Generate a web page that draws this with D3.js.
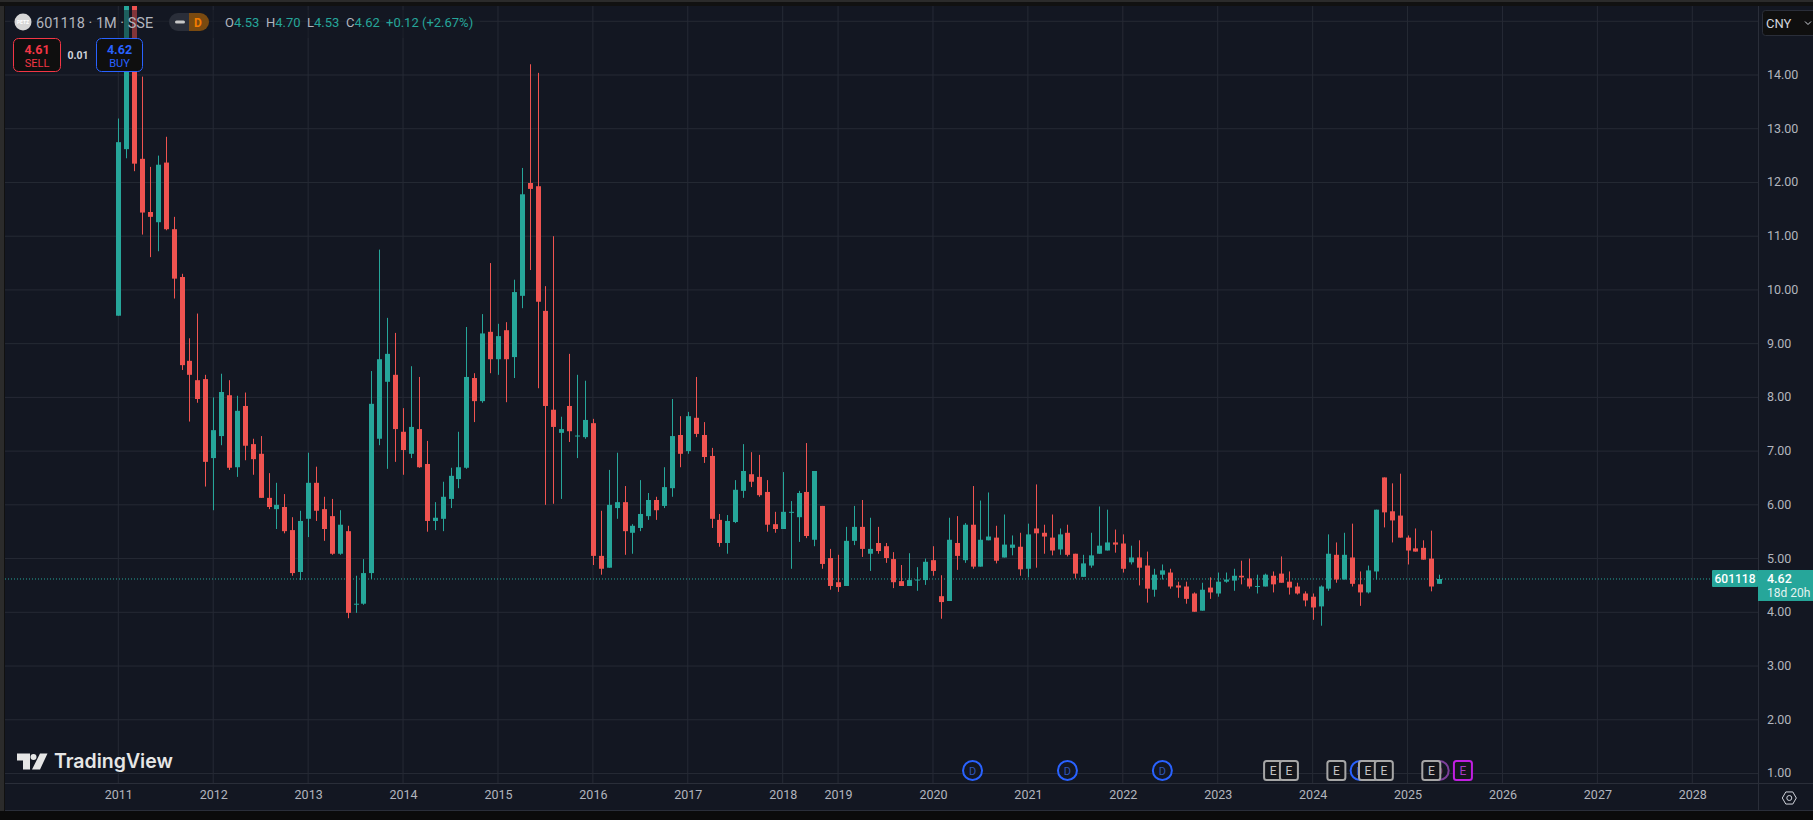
<!DOCTYPE html>
<html><head><meta charset="utf-8">
<style>html,body{margin:0;padding:0;background:#131722;overflow:hidden}svg{display:block}
text{font-family:Roboto,"Liberation Sans",sans-serif}</style>
<script src="https://cdn.jsdelivr.net/npm/d3@7"></script></head><body>
<div id="chart"></div>
<script>
const symbol = "601118", interval = "1M", exchange = "SSE", currency = "CNY";
const opens = [9.52,12.62,15.8,12.44,11.45,11.26,12.37,11.13,10.24,8.68,8.32,8.34,6.87,7.28,8.04,6.70,7.84,7.13,6.95,6.13,5.92,5.96,5.53,4.75,5.74,6.41,5.92,5.79,5.09,5.51,4.15,4.16,4.73,7.23,8.29,8.42,7.36,6.95,7.41,6.76,5.70,5.74,6.11,6.48,6.69,8.36,7.93,9.22,8.71,9.25,8.75,9.89,11.99,11.93,9.61,7.77,7.34,7.84,7.28,7.26,7.52,5.05,4.83,5.94,6.05,5.48,5.57,5.79,6.09,5.98,6.31,7.30,7.00,7.62,7.30,6.91,5.72,5.29,5.68,6.26,6.57,6.52,6.24,5.64,5.55,5.86,5.77,6.24,5.35,5.98,5.01,4.56,4.49,5.33,5.59,5.09,5.29,5.23,4.99,4.58,4.49,4.60,4.60,4.97,4.30,4.21,5.29,4.97,5.63,4.85,5.34,5.39,5.02,5.20,5.22,4.81,5.56,5.48,5.39,5.17,5.48,5.09,4.66,4.87,5.09,5.15,5.30,5.28,4.93,5.02,4.87,4.42,4.70,4.74,4.50,4.48,4.35,4.03,4.46,4.35,4.57,4.59,4.68,4.63,4.48,4.48,4.68,4.72,4.57,4.48,4.35,4.29,4.11,4.44,5.07,4.61,5.02,4.52,4.37,4.76,6.51,5.88,5.80,5.39,5.19,5.20,5.00,4.53];
const highs = [13.19,16.2,16.4,13.97,12.29,12.50,12.85,11.36,10.30,9.10,9.56,8.42,8.00,8.44,8.32,8.03,8.09,7.23,7.28,6.59,6.41,6.20,5.77,5.89,6.97,6.71,6.15,6.11,5.90,5.61,4.68,4.99,8.49,10.75,9.48,9.20,7.80,8.58,8.38,7.19,6.05,6.43,6.69,7.36,9.31,8.45,9.55,10.50,9.37,9.40,10.19,12.27,14.20,14.04,10.07,11.00,7.64,8.81,8.42,8.31,7.60,5.89,6.65,6.97,6.35,5.64,6.46,6.22,6.15,6.70,7.97,7.65,7.73,8.38,7.54,7.06,5.83,5.81,6.46,7.13,6.98,6.93,6.46,5.87,6.61,6.07,6.26,7.15,6.63,5.98,5.18,5.07,5.59,5.98,6.09,5.76,5.59,5.29,5.12,4.88,5.10,4.84,5.00,5.23,4.69,5.76,5.79,5.66,6.35,6.08,6.23,5.61,5.82,5.43,5.48,5.65,6.38,5.63,5.82,5.56,5.63,5.09,5.07,5.48,5.97,5.91,5.54,5.45,5.24,5.34,5.13,4.81,4.89,4.81,4.57,4.57,4.37,4.55,4.65,4.74,4.74,4.81,4.96,5.00,4.70,4.72,4.76,5.04,4.76,4.55,4.39,4.35,4.50,5.45,5.30,5.48,5.65,4.76,4.87,5.91,6.51,6.40,6.58,5.43,5.56,5.34,5.52,4.70];
const lows = [9.52,12.45,12.21,11.03,10.61,10.72,11.11,9.84,8.51,7.55,7.90,6.34,5.90,7.11,6.65,6.52,6.83,6.56,6.13,5.92,5.55,5.47,4.68,4.60,5.40,5.70,5.33,5.07,5.07,3.89,3.99,4.14,4.62,7.11,6.67,6.80,6.56,6.87,6.69,5.50,5.53,5.51,5.94,6.31,6.67,7.54,7.90,8.45,8.42,7.91,8.36,9.66,10.37,8.17,6.00,6.02,6.11,7.17,6.87,7.23,4.88,4.70,4.83,5.74,5.07,5.09,5.51,5.72,5.72,5.94,6.15,6.70,6.95,7.26,6.78,5.57,5.22,5.09,5.66,6.13,6.33,6.15,5.50,5.48,5.55,4.81,5.31,5.38,5.23,4.81,4.42,4.38,4.49,5.25,5.03,4.77,5.09,4.92,4.45,4.49,4.49,4.40,4.51,4.68,3.88,4.21,4.79,4.92,4.81,4.85,5.34,4.91,5.02,5.06,4.68,4.65,4.83,5.09,5.06,5.07,5.04,4.63,4.66,4.83,5.09,5.15,5.11,4.74,4.89,4.50,4.18,4.29,4.61,4.44,4.27,4.16,4.01,4.03,4.25,4.29,4.55,4.40,4.52,4.44,4.35,4.48,4.37,4.55,4.33,4.33,4.11,3.86,3.75,4.40,4.55,4.61,4.48,4.12,4.35,4.61,5.58,5.30,5.39,4.89,5.13,4.98,4.39,4.53];
const closes = [12.75,15.8,12.35,11.44,11.36,12.33,11.13,10.21,8.60,8.42,7.97,6.80,7.39,8.10,6.69,7.75,7.10,6.85,6.13,5.96,6.00,5.51,4.73,5.70,6.41,5.89,5.55,5.09,5.63,3.99,4.16,4.73,7.88,8.71,8.81,7.41,7.02,7.45,6.70,5.70,5.76,6.15,6.54,6.70,8.38,7.93,9.19,8.71,9.14,8.71,9.96,11.78,11.88,9.78,7.84,7.45,7.41,7.37,7.29,7.58,5.05,4.81,6.00,6.05,5.51,5.61,5.83,6.09,5.90,6.33,7.28,6.95,7.65,7.32,6.89,5.74,5.29,5.70,6.28,6.63,6.43,6.18,5.63,5.55,5.87,5.87,6.22,5.42,6.63,4.90,4.49,4.47,5.33,5.59,5.18,5.18,5.14,5.01,4.56,4.49,4.60,4.61,4.94,4.77,4.19,5.35,5.05,5.63,4.85,5.35,5.41,4.96,5.26,5.26,4.80,5.45,5.47,5.41,5.15,5.45,5.07,4.72,4.91,5.06,5.24,5.30,5.26,4.81,5.02,4.83,4.44,4.70,4.78,4.48,4.46,4.25,4.01,4.42,4.37,4.57,4.61,4.68,4.65,4.48,4.49,4.70,4.52,4.55,4.46,4.35,4.22,4.09,4.48,5.09,4.61,5.07,4.53,4.37,4.78,5.91,5.86,5.71,5.39,5.15,5.13,4.98,4.48,4.62];
const lastPrice = 4.62, sellPrice = "4.61", buyPrice = "4.62", spread = "0.01", countdown = "18d 20h";
const ohlcLegend = [["O","4.53"],["H","4.70"],["L","4.53"],["C","4.62"]];
const changeText = "+0.12 (+2.67%)";
const priceTicks = [1,2,3,4,5,6,7,8,9,10,11,12,13,14,15];
const yearTicks = [2011,2012,2013,2014,2015,2016,2017,2018,2019,2020,2021,2022,2023,2024,2025,2026,2027,2028];
const yearBars = [0,12,24,36,48,60,72,84,91,103,115,127,139,151,163,175,187,199];
const dividendBars = [108,120,132,157];
const upcomingDividendBar = 167;
const earningsBars = [146,148,154,158,160,166];
const upcomingEarningsBar = 170;

const W=1813,H=820, L=5, T=6, R=1758, B=783;
const UP="#26a69a", DN="#ef5350", GRID="#262a35", TXT="#b2b5be", BG="#131722", DARK="#0f0f0f";
const x=d3.scaleLinear().domain([0,199]).range([118.3,1692.3]);
const y=d3.scaleLinear().domain([4,14]).range([612.3,75]);

const svg=d3.select("#chart").append("svg").attr("width",W).attr("height",H);
svg.append("rect").attr("width",W).attr("height",H).attr("fill",BG);
svg.append("defs").append("clipPath").attr("id","plot").append("rect").attr("x",L).attr("y",T).attr("width",R-L).attr("height",B-T);

const gridG=svg.append("g").attr("class","grid");
gridG.selectAll(".h").data(priceTicks).join("line").attr("class","h").attr("x1",L).attr("x2",R).attr("y1",d=>y(d)).attr("y2",d=>y(d)).attr("stroke",GRID);
gridG.selectAll(".v").data(yearBars).join("line").attr("class","v").attr("y1",T).attr("y2",B).attr("x1",d=>x(d)).attr("x2",d=>x(d)).attr("stroke",GRID);

svg.append("line").attr("x1",L).attr("x2",1712).attr("y1",y(lastPrice)).attr("y2",y(lastPrice)).attr("stroke",UP).attr("stroke-dasharray","1 2");

const bars=d3.range(opens.length);
const cg=svg.append("g").attr("clip-path","url(#plot)");
cg.selectAll(".wick").data(bars).join("line").attr("class","wick")
  .attr("x1",i=>Math.round(x(i))+.5).attr("x2",i=>Math.round(x(i))+.5)
  .attr("y1",i=>y(highs[i])).attr("y2",i=>y(lows[i]))
  .attr("stroke",i=>closes[i]>=opens[i]?UP:DN).attr("stroke-width",1);
cg.selectAll(".body").data(bars).join("rect").attr("class","body")
  .attr("x",i=>Math.round(x(i))-2).attr("width",5)
  .attr("y",i=>y(Math.max(opens[i],closes[i])))
  .attr("height",i=>Math.max(1,Math.abs(y(opens[i])-y(closes[i]))))
  .attr("fill",i=>closes[i]>=opens[i]?UP:DN);

// frame
svg.append("rect").attr("width",5).attr("height",H).attr("fill","#111111");
svg.append("rect").attr("width",4).attr("height",H).attr("fill","#2b2b2b");
svg.append("rect").attr("width",W).attr("height",6).attr("fill","#111111");
svg.append("rect").attr("width",W).attr("height",2).attr("fill","#2b2b2b");
svg.append("rect").attr("y",811).attr("width",W).attr("height",9).attr("fill","#0b0b0b");
svg.append("line").attr("x1",L).attr("x2",W).attr("y1",B+.5).attr("y2",B+.5).attr("stroke","#2a2e39");
svg.append("line").attr("x1",L).attr("x2",W).attr("y1",810.5).attr("y2",810.5).attr("stroke","#2a2e39");
svg.append("line").attr("x1",R+.5).attr("x2",R+.5).attr("y1",T).attr("y2",811).attr("stroke","#2a2e39");

// axes
const yAxis=d3.axisRight(y).tickValues(priceTicks.filter(d=>d<15)).tickFormat(d3.format(".2f")).tickSize(0).tickPadding(9);
const yg=svg.append("g").attr("transform",`translate(${R},-0.5)`).call(yAxis);
yg.select(".domain").remove();
yg.selectAll("text").attr("fill",TXT).style("font-size","12.5px").style("font-family","Roboto");
const xAxis=d3.axisBottom(x).tickValues(yearBars).tickFormat((d,i)=>yearTicks[i]).tickSize(0).tickPadding(7);
const xg=svg.append("g").attr("transform",`translate(0,${B})`).call(xAxis);
xg.select(".domain").remove();
xg.selectAll("text").attr("fill",TXT).style("font-size","12.5px").style("font-family","Roboto");

// events
const evY=770.5;
const ev=svg.append("g");
function div(sel,stroke,tc){
  sel.attr("transform",d=>`translate(${x(d)},${evY})`).each(function(){
    const g=d3.select(this);
    g.append("circle").attr("r",9.5).attr("fill",BG).attr("stroke",stroke).attr("stroke-width",2);
    g.append("text").attr("text-anchor","middle").attr("y",4).attr("fill",tc).style("font-size","11px").text("D");
  });
}
div(ev.selectAll(".div").data(dividendBars).join("g").attr("class","div"),"#2962ff","#2f55b8");
div(ev.selectAll(".updiv").data([upcomingDividendBar]).join("g").attr("class","updiv"),"#7d3f9a","#7d3f9a");
function earn(sel,stroke,tc){
  sel.attr("transform",d=>`translate(${x(d)},${evY})`).each(function(){
    const g=d3.select(this);
    g.append("rect").attr("x",-9).attr("y",-9.5).attr("width",18).attr("height",19).attr("rx",2.5).attr("fill","#14161c").attr("stroke",stroke).attr("stroke-width",2);
    g.append("text").attr("text-anchor","middle").attr("y",4.5).attr("fill",tc).style("font-size","12px").text("E");
  });
}
earn(ev.selectAll(".earn").data(earningsBars).join("g").attr("class","earn"),"#a6a6a6","#c4c4c4");
earn(ev.selectAll(".next").data([upcomingEarningsBar]).join("g").attr("class","next"),"#c01fe0","#a83ac4");

// header
svg.append("rect").attr("x",10).attr("y",10).attr("width",470).attr("height",28).attr("fill",BG).attr("opacity",.5);
const hd=svg.append("g");
hd.append("circle").attr("cx",23).attr("cy",22).attr("r",8.5).attr("fill","#d6d6d6");
hd.append("text").attr("x",23).attr("y",24).attr("text-anchor","middle").attr("fill","#fff").style("font-size","5px").style("font-weight",700).text("PETZ");
hd.append("text").attr("x",36).attr("y",28).attr("fill",TXT).style("font-size","14.5px").text(`${symbol} · ${interval} · ${exchange}`);
hd.append("path").attr("d","M178 13h11v18h-11a9 9 0 0 1 0-18z").attr("fill","#2a2e39");
hd.append("path").attr("d","M189 13h11a9 9 0 0 1 0 18h-11z").attr("fill","#7a4a10");
hd.append("rect").attr("x",175).attr("y",20.5).attr("width",10).attr("height",3).attr("rx",1.5).attr("fill","#c8c8c8");
hd.append("text").attr("x",198).attr("y",27).attr("text-anchor","middle").attr("fill","#f57c00").style("font-size","12px").style("font-weight",700).text("D");
const legendX=[225,266,307,346];
ohlcLegend.forEach((d,i)=>{
  const t=hd.append("text").attr("x",legendX[i]).attr("y",27).style("font-size","13px");
  t.append("tspan").attr("fill",TXT).text(d[0]);
  t.append("tspan").attr("fill",UP).text(d[1]);
});
hd.append("text").attr("x",386).attr("y",27).attr("fill",UP).style("font-size","13px").text(changeText);

function tradeBox(xp,w,c,price,label){
  hd.append("rect").attr("x",xp).attr("y",38.5).attr("width",w).attr("height",33).attr("rx",5).attr("fill",DARK).attr("stroke",c);
  hd.append("text").attr("x",xp+w/2).attr("y",54).attr("text-anchor","middle").attr("fill",c).style("font-size","12.5px").style("font-weight",700).text(price);
  hd.append("text").attr("x",xp+w/2).attr("y",67).attr("text-anchor","middle").attr("fill",c).style("font-size","11px").text(label);
}
tradeBox(13.5,47,"#f23645",sellPrice,"SELL");
tradeBox(96.5,46,"#2962ff",buyPrice,"BUY");
hd.append("text").attr("x",78).attr("y",59).attr("text-anchor","middle").attr("fill","#d1d4dc").style("font-size","10.5px").style("font-weight",700).text(spread);

// currency
svg.append("rect").attr("x",1762.5).attr("y",10.5).attr("width",60).attr("height",25).attr("rx",3).attr("fill",DARK).attr("stroke","#2a2e39");
svg.append("text").attr("x",1766).attr("y",27.5).attr("fill","#d1d4dc").style("font-size","13px").text(currency);
svg.append("path").attr("d","M1805 21.5l3 3 3-3").attr("fill","none").attr("stroke","#d1d4dc");

// last price label
const ly=y(lastPrice);
svg.append("rect").attr("x",R).attr("y",ly-9).attr("width",W-R).attr("height",31).attr("fill",UP);
svg.append("rect").attr("x",1712).attr("y",ly-9).attr("width",R-1712).attr("height",17).attr("rx",1).attr("fill",UP);
svg.append("text").attr("x",1735).attr("y",ly+4.5).attr("text-anchor","middle").attr("fill","#fff").style("font-size","12px").style("font-weight",500).text(symbol);
svg.append("text").attr("x",1767).attr("y",ly+4.5).attr("fill","#fff").style("font-size","12.5px").style("font-weight",500).text(lastPrice.toFixed(2));
svg.append("text").attr("x",1767).attr("y",ly+18.5).attr("fill","#e4f3f1").style("font-size","12px").text(countdown);

// gear
const gear=svg.append("g").attr("transform","translate(1789.3,798)").attr("fill","none").attr("stroke","#d1d4dc");
gear.append("path").attr("d",d3.line()(d3.range(6).map(k=>[7*Math.cos(k*Math.PI/3),7*Math.sin(k*Math.PI/3)]))+"Z");
gear.append("circle").attr("r",2.5);

// logo
const logo=svg.append("g").attr("fill","#e6e6e6");
logo.append("path").attr("d","M17 753.5h13v16h-7v-9h-6zM40 753.5h7.5l-7.5 16h-8z");
logo.append("circle").attr("cx",33.5).attr("cy",757).attr("r",3);
logo.append("text").attr("x",54).attr("y",768).style("font-size","19.5px").style("font-weight",600).style("font-family","Inter").text("TradingView");
</script></body></html>
